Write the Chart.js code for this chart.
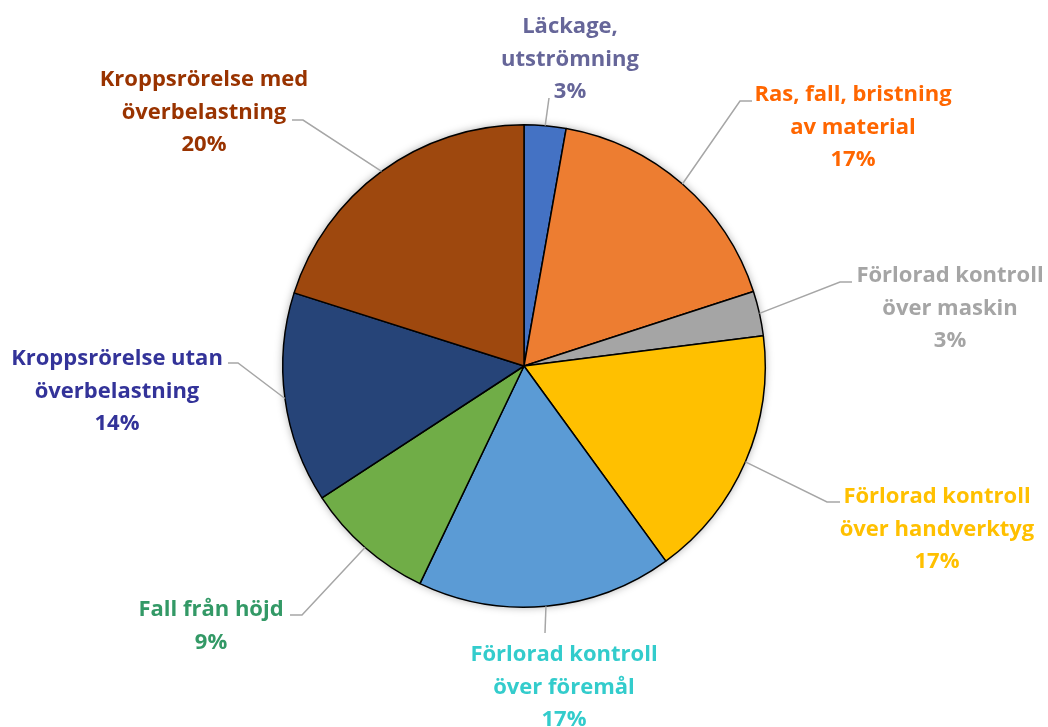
<!DOCTYPE html>
<html>
<head>
<meta charset="utf-8">
<script src="https://cdn.jsdelivr.net/npm/chart.js@4.4.1/dist/chart.umd.min.js"></script>
<style>
  html, body { margin: 0; padding: 0; background: #ffffff; }
  #wrap { width: 1048px; height: 727px; position: relative; }
</style>
</head>
<body>
<div id="wrap"><canvas id="c" width="1048" height="727"></canvas></div>
<script>
// ---- Data ----
const categories = [
  ["Läckage,", "utströmning"],
  ["Ras, fall, bristning", "av material"],
  ["Förlorad kontroll", "över maskin"],
  ["Förlorad kontroll", "över handverktyg"],
  ["Förlorad kontroll", "över föremål"],
  ["Fall från höjd"],
  ["Kroppsrörelse utan", "överbelastning"],
  ["Kroppsrörelse med", "överbelastning"]
];
const shares = [2.8, 17.2, 3.0, 17.0, 17.1, 8.7, 14.1, 20.1];

// ---- Styles ----
const sliceColors = ["#4472C4", "#ED7D31", "#A5A5A5", "#FFC000", "#5B9BD5", "#70AD47", "#264478", "#9E480E"];
const labelColors = ["#666699", "#FF6600", "#A5A5A5", "#FFC000", "#33CCCC", "#339966", "#333399", "#993300"];
// label layout: text centre x, first line centre y, leader attach point, elbow point (null = straight)
const labelLayout = [
  { x: 570, y: 25,  attach: [549, 98],  elbow: null },
  { x: 853, y: 93,  attach: [752, 101], elbow: [740, 101] },
  { x: 950, y: 274, attach: [852, 282], elbow: [840, 282] },
  { x: 937, y: 495, attach: [840, 502], elbow: [827, 502] },
  { x: 564, y: 653, attach: [545, 633], elbow: null },
  { x: 211, y: 608, attach: [290, 615], elbow: [302, 615] },
  { x: 117, y: 357, attach: [228, 363], elbow: [238, 363] },
  { x: 204, y: 78,  attach: [292, 120], elbow: [303, 120] }
];
const lineGap = 32.5;
const textShift = 2;
const fontSpec = "bold 22px 'Open Sans'";

const total = shares.reduce((a, b) => a + b, 0);

const shadowPlugin = {
  id: 'shadow',
  beforeDatasetsDraw(chart) {
    const arc = chart.getDatasetMeta(0).data[0];
    if (!arc) return;
    const ctx = chart.ctx;
    ctx.save();
    ctx.shadowColor = 'rgba(0,0,0,0.35)';
    ctx.shadowBlur = 9;
    ctx.beginPath();
    ctx.arc(arc.x, arc.y, arc.outerRadius, 0, Math.PI * 2);
    ctx.fillStyle = '#ffffff';
    ctx.fill();
    ctx.restore();
  }
};

const labelPlugin = {
  id: 'outLabels',
  afterDatasetsDraw(chart) {
    const ctx = chart.ctx;
    const meta = chart.getDatasetMeta(0);
    ctx.save();
    meta.data.forEach((arc, i) => {
      const mid = (arc.startAngle + arc.endAngle) / 2;
      const ex = arc.x + Math.cos(mid) * arc.outerRadius;
      const ey = arc.y + Math.sin(mid) * arc.outerRadius;
      const L = labelLayout[i];
      ctx.beginPath();
      ctx.strokeStyle = '#A6A6A6';
      ctx.lineWidth = 1.5;
      ctx.moveTo(ex, ey);
      if (L.elbow) ctx.lineTo(L.elbow[0], L.elbow[1]);
      ctx.lineTo(L.attach[0], L.attach[1]);
      ctx.stroke();
      ctx.font = fontSpec;
      ctx.fillStyle = labelColors[i];
      ctx.textAlign = 'center';
      ctx.textBaseline = 'middle';
      const lines = categories[i].concat([Math.round(shares[i] / total * 100) + '%']);
      lines.forEach((t, k) => ctx.fillText(t, L.x, L.y + textShift + k * lineGap));
    });
    ctx.restore();
  }
};

new Chart(document.getElementById('c'), {
  type: 'pie',
  data: {
    labels: categories.map(c => c.join(' ')),
    datasets: [{
      data: shares,
      backgroundColor: sliceColors,
      borderColor: '#000000',
      borderWidth: 1.5
    }]
  },
  options: {
    responsive: false,
    animation: false,
    layout: { padding: { top: 124, bottom: 119, left: 282, right: 282 } },
    plugins: {
      legend: { display: false },
      tooltip: { enabled: false }
    }
  },
  plugins: [shadowPlugin, labelPlugin]
});
</script>
</body>
</html>
